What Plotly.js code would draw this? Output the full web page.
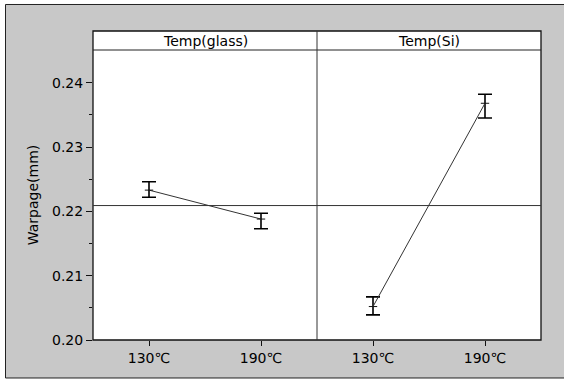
<!DOCTYPE html>
<html>
<head>
<meta charset="utf-8">
<script src="https://cdn.plot.ly/plotly-3.0.1.min.js"></script>
<style>html,body{margin:0;padding:0;background:#fff;overflow:hidden;}#chart{width:564px;height:381px;}</style>
</head>
<body>
<div id="chart"></div>
<script>
// Data
const categories = ['130℃', '190℃'];
const panelTitles = ['Temp(glass)', 'Temp(Si)'];
const glassMean = [0.2233, 0.2188];
const glassUpper = [0.2246, 0.2197];
const glassLower = [0.2222, 0.2173];
const siMean = [0.2052, 0.2368];
const siUpper = [0.2067, 0.2382];
const siLower = [0.2039, 0.2345];
const grandMean = 0.2209;
const yTickVals = [0.20, 0.21, 0.22, 0.23, 0.24];
const yTickText = ['0.20', '0.21', '0.22', '0.23', '0.24'];

function diff(a, b) { return a.map((v, i) => +(v - b[i]).toFixed(5)); }

const font = {family: 'DejaVu Sans, Verdana, sans-serif', size: 14, color: '#000'};

function trace(mean, up, lo, xa) {
  return {
    type: 'scatter', mode: 'lines+markers',
    x: categories, y: mean, xaxis: xa, yaxis: 'y',
    line: {color: '#333', width: 1},
    marker: {symbol: 'line-ew', size: 6, line: {color: '#111', width: 1}},
    error_y: {type: 'data', symmetric: false, array: diff(up, mean), arrayminus: diff(mean, lo),
      color: '#000', thickness: 1.6, width: 7},
    hoverinfo: 'skip', showlegend: false
  };
}

const data = [trace(glassMean, glassUpper, glassLower, 'x'), trace(siMean, siUpper, siLower, 'x2')];

const stripTop = 1 + 19 / 290;
const axCommon = {type: 'category', range: [-0.5, 1.5], showgrid: false, zeroline: false,
  showline: false, ticks: 'outside', ticklen: 5, tickcolor: '#111', tickfont: font, fixedrange: true};

const layout = {
  width: 564, height: 381,
  margin: {l: 93, r: 23, t: 50, b: 41},
  paper_bgcolor: '#ffffff', plot_bgcolor: 'rgba(0,0,0,0)',
  font: font,
  showlegend: false,
  xaxis: Object.assign({domain: [0, 0.5], anchor: 'y'}, axCommon),
  xaxis2: Object.assign({domain: [0.5, 1], anchor: 'y'}, axCommon),
  yaxis: {range: [0.2, 0.24508], tickvals: yTickVals, ticktext: yTickText, showgrid: false, zeroline: false,
    showline: false, ticks: 'outside', ticklen: 6, tickcolor: '#111', tickfont: font,
    minor: {tickvals: [0.205, 0.215, 0.225, 0.235], ticks: 'outside', ticklen: 3, tickcolor: '#111'},
    title: {text: 'Warpage(mm)', font: font, standoff: 10}, fixedrange: true},
  shapes: [
    // gray background with dark border (right side runs off the page)
    {type: 'rect', xref: 'paper', yref: 'paper', layer: 'below', x0: -0.1953, x1: 1.6, y0: -0.131, y1: 1.1569,
      fillcolor: '#c8c8c8', line: {color: '#222', width: 1}},
    // white panel area
    {type: 'rect', xref: 'paper', yref: 'paper', layer: 'below', x0: 0, x1: 1, y0: 0, y1: stripTop,
      fillcolor: '#ffffff', line: {width: 0}},
    // frame
    {type: 'rect', xref: 'paper', yref: 'paper', layer: 'above', x0: 0, x1: 1, y0: 0, y1: stripTop,
      line: {color: '#111', width: 1.3}},
    {type: 'line', xref: 'paper', yref: 'paper', x0: 0, x1: 1, y0: 1, y1: 1, line: {color: '#222', width: 1}},
    {type: 'line', xref: 'paper', yref: 'paper', x0: 0.5, x1: 0.5, y0: 0, y1: stripTop, line: {color: '#333', width: 1}},
    // grand mean reference line
    {type: 'line', xref: 'paper', yref: 'y', x0: 0, x1: 1, y0: grandMean, y1: grandMean, line: {color: '#333', width: 1}}
  ],
  annotations: [
    {text: panelTitles[0], xref: 'paper', yref: 'paper', x: 0.25, y: (1 + stripTop) / 2, showarrow: false,
      xanchor: 'center', yanchor: 'middle', font: font},
    {text: panelTitles[1], xref: 'paper', yref: 'paper', x: 0.75, y: (1 + stripTop) / 2, showarrow: false,
      xanchor: 'center', yanchor: 'middle', font: font}
  ]
};

Plotly.newPlot('chart', data, layout, {staticPlot: true, displayModeBar: false});
</script>
</body>
</html>
